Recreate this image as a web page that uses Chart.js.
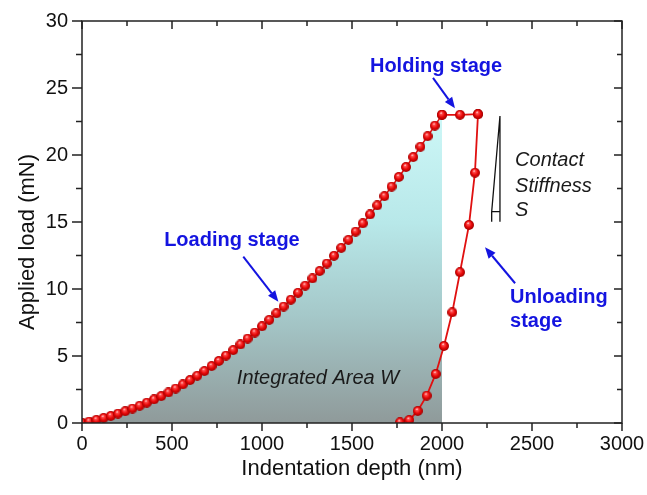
<!DOCTYPE html>
<html>
<head>
<meta charset="utf-8">
<script src="https://cdn.jsdelivr.net/npm/chart.js@4/dist/chart.umd.min.js"></script>
<style>
  html, body { margin:0; padding:0; background:#fff; }
  #wrap { width:647px; height:495px; position:relative; }
</style>
</head>
<body>
<div id="wrap"><canvas id="chart"></canvas></div>
<script>
// Data
const loadDepth = [0,40,80,120,160,200,240,280,320,360,400,440,480,520,560,600,640,680,720,760,
  800,840,880,920,960,1000,1040,1080,1120,1160,1200,1240,1280,1320,1360,1400,1440,1480,1520,1560,
  1600,1640,1680,1720,1760,1800,1840,1880,1920,1960,2000];
const loadForce = [0.03,0.11,0.24,0.38,0.53,0.70,0.88,1.08,1.29,1.52,1.76,2.01,2.28,2.57,2.88,3.20,3.53,3.88,4.25,4.63,
  5.03,5.44,5.86,6.30,6.75,7.22,7.70,8.19,8.69,9.20,9.72,10.25,10.79,11.34,11.90,12.48,13.07,13.67,14.28,14.90,
  15.56,16.24,16.93,17.64,18.36,19.10,19.85,20.62,21.40,22.19,23.00];
const holdDepth = [2000,2100,2200];
const holdForce = [23.00,23.00,23.05];
const unloadDepth = [2200,2183,2150,2100,2057,2011,1965,1915,1865,1818,1767];
const unloadForce = [23.05,18.68,14.78,11.25,8.26,5.75,3.66,2.04,0.90,0.22,0.05];
const xTicks = [0,500,1000,1500,2000,2500,3000];
const yTicks = [0,5,10,15,20,25,30];

const FONT = "Arial, 'Liberation Sans', sans-serif";
const BLUE = '#1414e0';
const RED = '#e01010';

const pairs = (xs, ys) => xs.map((x,i) => ({ x:x, y:ys[i] }));

// shiny red ball marker
function ball(d) {
  const c = document.createElement('canvas');
  c.width = c.height = d;
  const g = c.getContext('2d');
  const r = d/2;
  const grad = g.createRadialGradient(r*0.8, r*0.6, 0.2, r, r, r);
  grad.addColorStop(0, '#ffe8e8');
  grad.addColorStop(0.2, '#ff5050');
  grad.addColorStop(0.6, '#e80808');
  grad.addColorStop(1, '#a00000');
  g.fillStyle = grad;
  g.beginPath(); g.arc(r, r, r, 0, Math.PI*2); g.fill();
  return c;
}
const BALL = ball(10);

function areaFill(ctx) {
  const chart = ctx.chart;
  if (!chart.chartArea) return 'rgba(0,0,0,0)';
  const ys = chart.scales.y;
  const g = chart.ctx.createLinearGradient(0, ys.getPixelForValue(23), 0, ys.getPixelForValue(0));
  g.addColorStop(0, '#cdf7f7');
  g.addColorStop(0.35, '#b8e8e9');
  g.addColorStop(0.65, '#a5c8c9');
  g.addColorStop(1, '#8f9a9a');
  return g;
}

function arrow(c, x1, y1, x2, y2) {
  const a = Math.atan2(y2-y1, x2-x1), L = 11, W = 4.5;
  const bx = x2 - L*Math.cos(a), by = y2 - L*Math.sin(a);
  c.strokeStyle = BLUE; c.fillStyle = BLUE; c.lineWidth = 2;
  c.beginPath(); c.moveTo(x1, y1); c.lineTo(bx, by); c.stroke();
  c.beginPath();
  c.moveTo(x2, y2);
  c.lineTo(bx + W*Math.sin(a), by - W*Math.cos(a));
  c.lineTo(bx - W*Math.sin(a), by + W*Math.cos(a));
  c.closePath(); c.fill();
}

const frame = {
  id: 'frame',
  afterDraw(chart) {
    const c = chart.ctx, xs = chart.scales.x, ys = chart.scales.y;
    const { left, right, top, bottom } = chart.chartArea;
    const X = v => xs.getPixelForValue(v), Y = v => ys.getPixelForValue(v);
    c.save();
    // box + ticks
    c.strokeStyle = '#222'; c.lineWidth = 1.5;
    c.strokeRect(left, top, right-left, bottom-top);
    c.beginPath();
    for (let v = 0; v <= 3000; v += 250) {
      const p = X(v), maj = v % 500 === 0;
      c.moveTo(p, bottom); c.lineTo(p, bottom + (maj ? 8 : 5));
      c.moveTo(p, top); c.lineTo(p, top + (maj ? 8 : 5));
    }
    for (let v = 0; v <= 30; v += 2.5) {
      const p = Y(v), maj = v % 5 === 0;
      c.moveTo(left - (maj ? 10 : 6), p); c.lineTo(left, p);
      c.moveTo(right - (maj ? 8 : 5), p); c.lineTo(right, p);
    }
    c.stroke();

    // axis titles
    c.fillStyle = '#111'; c.font = '22px ' + FONT;
    c.textAlign = 'center'; c.textBaseline = 'middle';
    c.fillText('Indentation depth (nm)', (left+right)/2, 469);
    c.save(); c.translate(28, 242); c.rotate(-Math.PI/2);
    c.fillText('Applied load (mN)', 0, 0); c.restore();

    // stage labels
    c.fillStyle = BLUE; c.font = 'bold 20px ' + FONT;
    c.fillText('Loading stage', X(833), Y(13.6));
    c.fillText('Holding stage', X(1967), Y(26.64));
    c.textAlign = 'left';
    c.fillText('Unloading', X(2378), Y(9.4));
    c.fillText('stage', X(2378), Y(7.54));
    arrow(c, X(896), Y(12.41), X(1091), Y(9.05));
    arrow(c, X(1950), Y(25.75), X(2072), Y(23.49));
    arrow(c, X(2406), Y(10.43), X(2239), Y(13.11));

    // italic notes
    c.fillStyle = '#1a1a1a'; c.font = 'italic 20px ' + FONT;
    c.textAlign = 'center';
    c.fillText('Integrated Area W', X(1311), Y(3.36));
    c.textAlign = 'left';
    c.fillText('Contact', X(2406), Y(19.63));
    c.fillText('Stiffness', X(2406), Y(17.69));
    c.fillText('S', X(2406), Y(15.9));

    // stiffness triangle
    c.strokeStyle = '#111'; c.lineWidth = 1.3;
    c.beginPath();
    c.moveTo(X(2322), Y(22.91)); c.lineTo(X(2322), Y(15.02));
    c.moveTo(X(2322), Y(22.91)); c.lineTo(X(2276), Y(15.77)); c.lineTo(X(2276), Y(15.02));
    c.moveTo(X(2276), Y(15.77)); c.lineTo(X(2322), Y(15.77));
    c.stroke();
    c.restore();
  }
};

new Chart(document.getElementById('chart'), {
  type:'line',
  data:{ datasets:[
    { label:'Loading', data:pairs(loadDepth, loadForce), borderColor:RED, borderWidth:1.5,
      backgroundColor:areaFill, fill:'origin', pointStyle:BALL, pointRadius:5, tension:0 },
    { label:'Holding', data:pairs(holdDepth, holdForce), borderColor:RED, borderWidth:1.8,
      fill:false, pointStyle:BALL, pointRadius:5, tension:0 },
    { label:'Unloading', data:pairs(unloadDepth, unloadForce), borderColor:RED, borderWidth:1.8,
      fill:false, pointStyle:BALL, pointRadius:5, tension:0 }
  ]},
  options:{
    responsive:true, maintainAspectRatio:false, animation:false,
    layout:{ padding:{ top:21, right:25, left:0, bottom:0 } },
    plugins:{ legend:{display:false}, tooltip:{enabled:false}, filler:{ drawTime:'beforeDatasetsDraw' } },
    scales:{
      x:{ type:'linear', min:0, max:3000,
        afterBuildTicks:s => { s.ticks = xTicks.map(v => ({ value:v })); },
        afterFit:s => { s.height = 72; },
        grid:{ display:true, drawOnChartArea:false, drawTicks:true, tickLength:8, color:'rgba(0,0,0,0)' },
        border:{ display:false },
        ticks:{ padding:1, color:'#111', font:{ family:FONT, size:20 }, maxRotation:0, callback:v => String(v) } },
      y:{ type:'linear', min:0, max:30,
        afterBuildTicks:s => { s.ticks = yTicks.map(v => ({ value:v })); },
        afterFit:s => { s.width = 82; },
        grid:{ display:true, drawOnChartArea:false, drawTicks:true, tickLength:10, color:'rgba(0,0,0,0)' },
        border:{ display:false },
        ticks:{ padding:4, color:'#111', font:{ family:FONT, size:20 }, callback:v => String(v) } }
    }
  },
  plugins:[frame]
});
</script>
</body>
</html>
